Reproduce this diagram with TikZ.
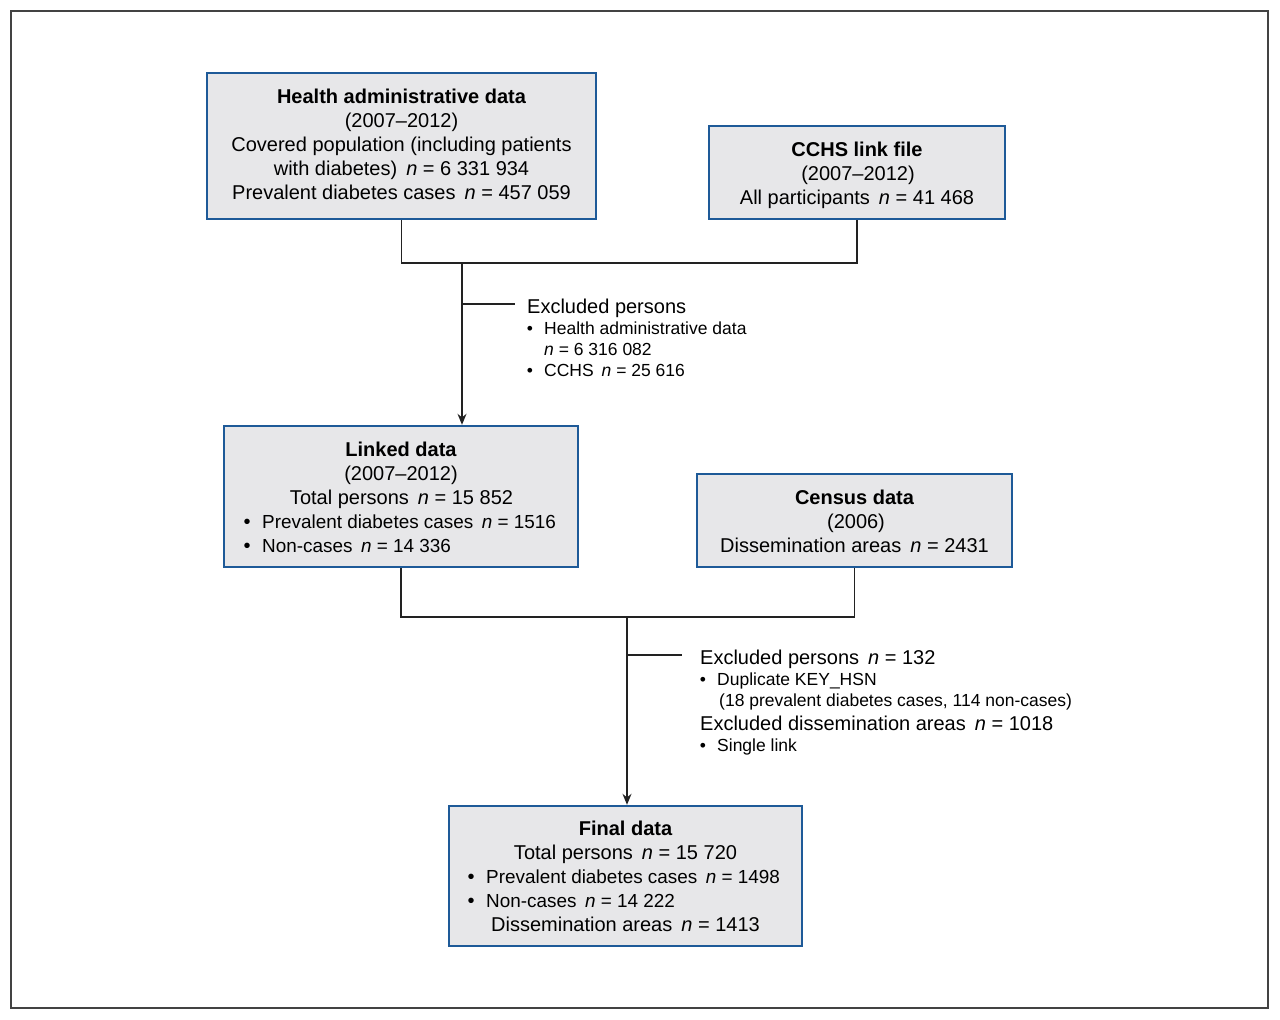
\documentclass[tikz,border=0pt]{standalone}
\usepackage{fontspec}
\setmainfont{Liberation Sans}
\usetikzlibrary{arrows.meta,positioning}
\definecolor{boxblue}{HTML}{1E5A98}
\definecolor{boxgray}{HTML}{E7E7E9}
\definecolor{linegray}{HTML}{222222}
\newcommand{\nn}{\hspace{0.45em}\textit{n}}
\tikzset{
  box/.style={draw=boxblue, line width=2.4pt, fill=boxgray, inner sep=0pt},
  big/.style={inner sep=0pt, font=\fontsize{20}{24}\selectfont},
  bigb/.style={inner sep=0pt, font=\fontsize{20}{24}\selectfont\bfseries},
  mid/.style={inner sep=0pt, font=\fontsize{18.9}{24}\selectfont},
  small/.style={inner sep=0pt, font=\fontsize{17.5}{21}\selectfont},
  conn/.style={draw=linegray, line width=1.4pt},
  arr/.style={conn, -{Stealth[length=11pt,width=9pt]}}
}
\begin{document}
\begin{tikzpicture}[x=1pt,y=-1pt]
\useasboundingbox (0,0) rectangle (1280,1020);
\draw[draw=linegray!85, line width=1.4pt] (11,11) rectangle (1268,1008);

% boxes
\node[box, minimum width=389pt, minimum height=146pt] (had) at (401.5,146) {};
\node[box, minimum width=296pt, minimum height=93pt] (cchs) at (857,172.5) {};
\node[box, minimum width=354pt, minimum height=141pt] (linked) at (401,496.5) {};
\node[box, minimum width=315pt, minimum height=93pt] (census) at (854.5,520.5) {};
\node[box, minimum width=353pt, minimum height=140pt] (final) at (625.5,876) {};

% box 1 text
\node[bigb, anchor=base] (h1) at (401.5,103) {Health administrative data};
\node[big, anchor=base] (h2) at (401.5,127) {(2007–2012)};
\node[big, anchor=base] (h3) at (401.5,151) {Covered population (including patients};
\node[big, anchor=base] (h4) at (401.5,175) {with diabetes)\nn{} = 6 331 934};
\node[big, anchor=base] (h5) at (401.5,199) {Prevalent diabetes cases\nn{} = 457 059};

% CCHS text
\node[bigb, anchor=base] (c1) at (857,156) {CCHS link file};
\node[big, anchor=base] (c2) at (858,180) {(2007–2012)};
\node[big, anchor=base] (c3) at (857,204) {All participants\nn{} = 41 468};

% census text
\node[bigb, anchor=base] (s1) at (854.5,504) {Census data};
\node[big, anchor=base] (s2) at (856,528) {(2006)};
\node[big, anchor=base] (s3) at (854.5,552) {Dissemination areas\nn{} = 2431};

% linked text
\node[bigb, anchor=base] (l1) at (401,456) {Linked data};
\node[big, anchor=base] (l2) at (401,480) {(2007–2012)};
\node[big, anchor=base] (l3) at (401.5,504) {Total persons\nn{} = 15 852};
\node[big, anchor=base] (lb1) at (247,528) {\textbullet};
\node[mid, anchor=base west] (l4) at (262,528) {Prevalent diabetes cases\nn{} = 1516};
\node[big, anchor=base] (lb2) at (247,552) {\textbullet};
\node[mid, anchor=base west] (l5) at (262,552) {Non-cases\nn{} = 14 336};

% final text
\node[bigb, anchor=base] (f1) at (625.5,835) {Final data};
\node[big, anchor=base] (f2) at (625.5,859) {Total persons\nn{} = 15 720};
\node[big, anchor=base] (fb1) at (471,883) {\textbullet};
\node[mid, anchor=base west] (f3) at (486,883) {Prevalent diabetes cases\nn{} = 1498};
\node[big, anchor=base] (fb2) at (471,907) {\textbullet};
\node[mid, anchor=base west] (f4) at (486,907) {Non-cases\nn{} = 14 222};
\node[big, anchor=base] (f5) at (625.5,931) {Dissemination areas\nn{} = 1413};

% exclusion 1
\node[big, anchor=base west] (e1) at (527,313) {Excluded persons};
\node[small, anchor=base] (eb1) at (530,334) {\textbullet};
\node[small, anchor=base west] (e2) at (544,334) {Health administrative data};
\node[small, anchor=base west] (e3) at (544,355) {\textit{n} = 6 316 082};
\node[small, anchor=base] (eb2) at (530,376) {\textbullet};
\node[small, anchor=base west] (e4) at (544,376) {CCHS\nn{} = 25 616};

% exclusion 2
\node[big, anchor=base west] (x1) at (700,664) {Excluded persons\nn{} = 132};
\node[small, anchor=base] (xb1) at (703,685) {\textbullet};
\node[small, anchor=base west] (x2) at (717,685) {Duplicate KEY\_HSN};
\node[small, anchor=base west] (x3) at (719,706) {(18 prevalent diabetes cases, 114 non-cases)};
\node[big, anchor=base west] (x4) at (700,730) {Excluded dissemination areas\nn{} = 1018};
\node[small, anchor=base] (xb2) at (703,751) {\textbullet};
\node[small, anchor=base west] (x5) at (717,751) {Single link};

% connectors
\coordinate (j1) at (462,263);
\coordinate (b1) at (462,304);
\coordinate (b1e) at (515,304);
\draw[conn] (had.south) -- (had.south |- j1) -- (cchs.south |- j1) -- (cchs.south);
\draw[arr] (j1) -- (j1 |- linked.north);
\draw[conn] (b1) -- (b1e);

\coordinate (j2) at (627,617);
\coordinate (b2) at (627,655);
\coordinate (b2e) at (682,655);
\draw[conn] (linked.south) -- (linked.south |- j2) -- (census.south |- j2) -- (census.south);
\draw[arr] (j2) -- (j2 |- final.north);
\draw[conn] (b2) -- (b2e);
\end{tikzpicture}
\end{document}
